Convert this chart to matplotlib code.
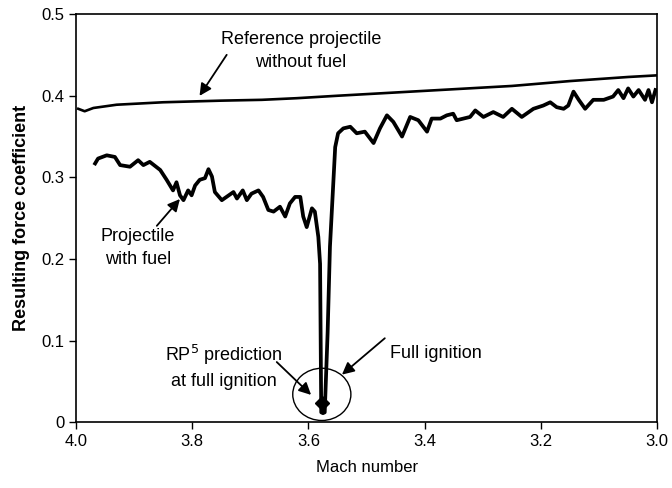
import numpy as np
import matplotlib
matplotlib.use("Agg")
import matplotlib.pyplot as plt
from matplotlib.patches import Ellipse

plt.rcParams['font.family'] = ['Liberation Sans', 'DejaVu Sans']

# reference projectile without fuel
mach_ref = [3.996, 3.985, 3.97, 3.93, 3.85, 3.75, 3.68, 3.62, 3.55, 3.45,
            3.35, 3.25, 3.15, 3.05, 3.0]
cf_ref = [0.384, 0.381, 0.385, 0.389, 0.392, 0.394, 0.395, 0.397, 0.400, 0.404,
          0.408, 0.412, 0.418, 0.423, 0.425]

# projectile with fuel
mach_fuel = [3.967, 3.962, 3.947, 3.933, 3.924, 3.907, 3.893, 3.884, 3.873, 3.855,
             3.844, 3.833, 3.827, 3.821, 3.815, 3.807, 3.801, 3.795, 3.787, 3.778,
             3.772, 3.766, 3.761, 3.749, 3.741, 3.729, 3.723, 3.713, 3.706, 3.698,
             3.686, 3.678, 3.669, 3.660, 3.649, 3.640, 3.632, 3.623, 3.614, 3.609,
             3.603, 3.594, 3.589, 3.583, 3.580, 3.578, 3.575, 3.572, 3.567, 3.563,
             3.554, 3.549, 3.540, 3.528, 3.517, 3.503, 3.488, 3.477, 3.465, 3.454,
             3.439, 3.425, 3.411, 3.396, 3.388, 3.373, 3.362, 3.351, 3.345, 3.322,
             3.313, 3.299, 3.282, 3.265, 3.250, 3.233, 3.213, 3.196, 3.184, 3.173,
             3.161, 3.153, 3.144, 3.135, 3.124, 3.110, 3.092, 3.076, 3.067, 3.058,
             3.050, 3.041, 3.032, 3.021, 3.015, 3.009, 3.003]
cf_fuel = [0.317, 0.323, 0.327, 0.325, 0.315, 0.313, 0.321, 0.315, 0.319, 0.309,
           0.297, 0.284, 0.294, 0.278, 0.272, 0.284, 0.278, 0.290, 0.297, 0.299,
           0.310, 0.301, 0.282, 0.272, 0.276, 0.282, 0.274, 0.284, 0.272, 0.280,
           0.284, 0.276, 0.260, 0.258, 0.264, 0.252, 0.268, 0.276, 0.276, 0.252,
           0.239, 0.262, 0.258, 0.227, 0.194, 0.012, 0.011, 0.012, 0.110, 0.215,
           0.337, 0.354, 0.360, 0.362, 0.354, 0.356, 0.342, 0.360, 0.376, 0.368,
           0.350, 0.374, 0.370, 0.356, 0.372, 0.372, 0.376, 0.378, 0.370, 0.374,
           0.382, 0.374, 0.380, 0.374, 0.384, 0.374, 0.384, 0.388, 0.392, 0.386,
           0.384, 0.388, 0.405, 0.395, 0.384, 0.395, 0.395, 0.399, 0.407, 0.397,
           0.409, 0.399, 0.407, 0.395, 0.407, 0.392, 0.407]

# RP5 prediction at full ignition
mach_rp5 = 3.577
cf_rp5 = 0.023

fig = plt.figure(figsize=(6.72, 4.88), dpi=100)
ax = fig.add_axes([0.113, 0.135, 0.865, 0.836])

ax.plot(mach_ref, cf_ref, color='black', lw=1.9)
ax.plot(mach_fuel, cf_fuel, color='black', lw=2.7)
ax.plot(mach_rp5, cf_rp5, marker='D', color='black', ms=7)
ax.add_patch(Ellipse((3.577, 0.034), 0.100, 0.064, fill=False, ec='black', lw=1.0))

ax.set_xlim(4.0, 3.0)
ax.set_ylim(0, 0.5)
ax.set_xticks([4.0, 3.8, 3.6, 3.4, 3.2, 3.0])
ax.set_xticklabels(['4.0', '3.8', '3.6', '3.4', '3.2', '3.0'])
ax.set_yticks([0, 0.1, 0.2, 0.3, 0.4, 0.5])
ax.set_yticklabels(['0', '0.1', '0.2', '0.3', '0.4', '0.5'])
ax.tick_params(labelsize=12, length=5, width=1)
for s in ax.spines.values():
    s.set_linewidth(1.2)

ax.set_xlabel('Mach number', fontsize=12, labelpad=8)
ax.set_ylabel('Resulting force coefficient', fontsize=13, fontweight='bold', labelpad=8)

arw = dict(arrowstyle='-|>', color='black', lw=1.3, mutation_scale=18)
ax.text(3.613, 0.455, 'Reference projectile\nwithout fuel',
        ha='center', va='center', fontsize=13, linespacing=1.45)
ax.annotate('', xy=(3.790, 0.397), xytext=(3.738, 0.453), arrowprops=arw)
ax.text(3.893, 0.213, 'Projectile\nwith fuel', ha='center', va='center',
        fontsize=13, linespacing=1.45)
ax.annotate('', xy=(3.818, 0.276), xytext=(3.864, 0.238), arrowprops=arw)
ax.text(3.745, 0.068, 'RP$^5$ prediction\nat full ignition',
        ha='center', va='center', fontsize=13, linespacing=1.45)
ax.annotate('', xy=(3.592, 0.031), xytext=(3.658, 0.076), arrowprops=arw)
ax.text(3.46, 0.084, 'Full ignition', ha='left', va='center', fontsize=13)
ax.annotate('', xy=(3.546, 0.056), xytext=(3.465, 0.105), arrowprops=arw)

fig.savefig('out.png', dpi=100)
